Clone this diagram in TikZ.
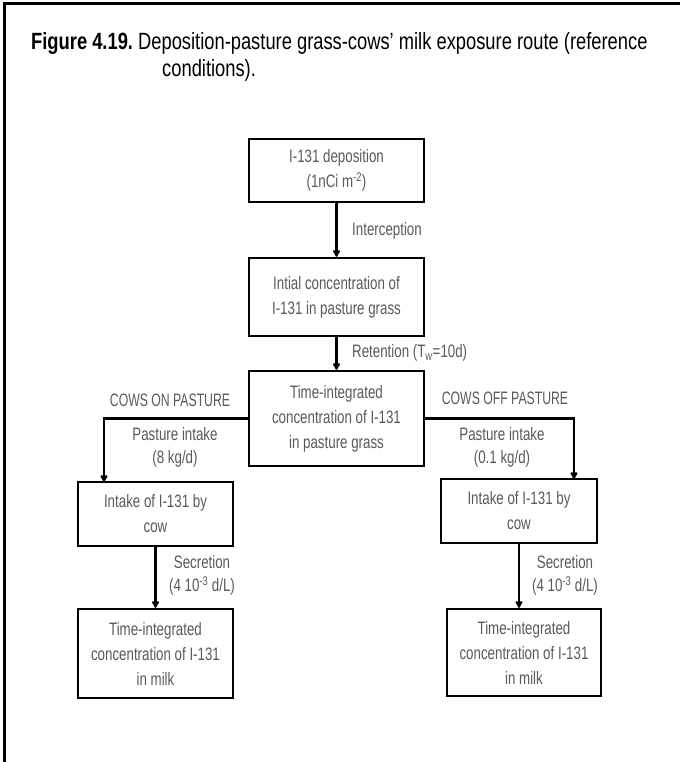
\documentclass[tikz,border=0pt]{standalone}
\usepackage{fontspec}
\setmainfont{Liberation Sans}
\newfontfamily\titlefont[FakeStretch=0.78]{Liberation Sans}
\newfontfamily\dfont[FakeStretch=0.74]{Liberation Sans}
\newfontfamily\capsfont[FakeStretch=0.68]{Liberation Sans}
\usetikzlibrary{arrows.meta}
\begin{document}
\begin{tikzpicture}[x=1pt,y=-1pt,
  box/.style={draw=black,line width=2.2pt,rectangle,inner sep=0pt,align=center,
    font=\dfont\fontsize{18}{25}\selectfont,text=black!65},
  lbl/.style={inner sep=0pt,align=center,font=\dfont\fontsize{18}{23}\selectfont,text=black!65},
  capslbl/.style={inner sep=0pt,font=\capsfont\fontsize{18}{20}\selectfont,text=black!65},
  ttl/.style={inner sep=0pt,anchor=base west,font=\titlefont\fontsize{23.5}{28}\selectfont},
  conn/.style={line width=2.2pt},
  arr/.style={conn,-{Latex[length=8pt,width=9pt,round]}}]
\useasboundingbox (0,0) rectangle (680,762);
% frame
\coordinate (ftr) at (680,4);
\coordinate (ftl) at (4,4);
\coordinate (fbl) at (4,762);
\draw[line width=3pt] (ftr) -- (ftl) -- (fbl);
% title
\node[ttl] (t1) at (31,50) {\bfseries Figure 4.19.\mdseries\ Deposition-pasture grass-cows’ milk exposure route (reference};
\node[ttl] (t3) at (162,77) {conditions).};
% boxes
\node[box,minimum width=175,minimum height=63] (b1) at (336.5,170.5) {I-131 deposition\\(1nCi m\textsuperscript{-2})};
\node[box,minimum width=175,minimum height=78] (b2) at (336.5,297) {Intial concentration of\\I-131 in pasture grass};
\node[box,minimum width=175,minimum height=95] (b3) at (336.5,418.5) {Time-integrated\\concentration of I-131\\in pasture grass};
\node[box,minimum width=155,minimum height=64] (b4) at (155.5,514) {Intake of I-131 by\\cow};
\node[box,minimum width=155,minimum height=89] (b5) at (155.5,653.5) {Time-integrated\\concentration of I-131\\in milk};
\node[box,minimum width=156,minimum height=64] (b6) at (519,511) {Intake of I-131 by\\cow};
\node[box,minimum width=154,minimum height=87] (b7) at (524,652.5) {Time-integrated\\concentration of I-131\\in milk};
% labels
\node[lbl,anchor=west] (l1) at (352,231) {Interception};
\node[lbl,anchor=west] (l2) at (352,353) {Retention (T\textsubscript{w}=10d)};
\node[capslbl] (l3) at (170,400) {COWS ON PASTURE};
\node[capslbl] (l4) at (505,398) {COWS OFF PASTURE};
\node[lbl] (l5) at (175,447.5) {Pasture intake\\(8 kg/d)};
\node[lbl] (l6) at (502,447.5) {Pasture intake\\(0.1 kg/d)};
\node[lbl] (l7) at (202,575.5) {Secretion\\(4 10\textsuperscript{-3} d/L)};
\node[lbl] (l8) at (565,575.5) {Secretion\\(4 10\textsuperscript{-3} d/L)};
% connectors
\draw[arr] (b1.south) -- (b2.north);
\draw[arr] (b2.south) -- (b3.north);
\coordinate (lt) at (104,482);
\coordinate (rt) at (574,479);
\draw[arr] (b3.west) -| (lt);
\draw[arr] (b3.east) -| (rt);
\draw[arr] (b4.south) -- (b5.north);
\draw[arr] (b6.south) -- (b6.south |- b7.north);
\end{tikzpicture}
\end{document}
